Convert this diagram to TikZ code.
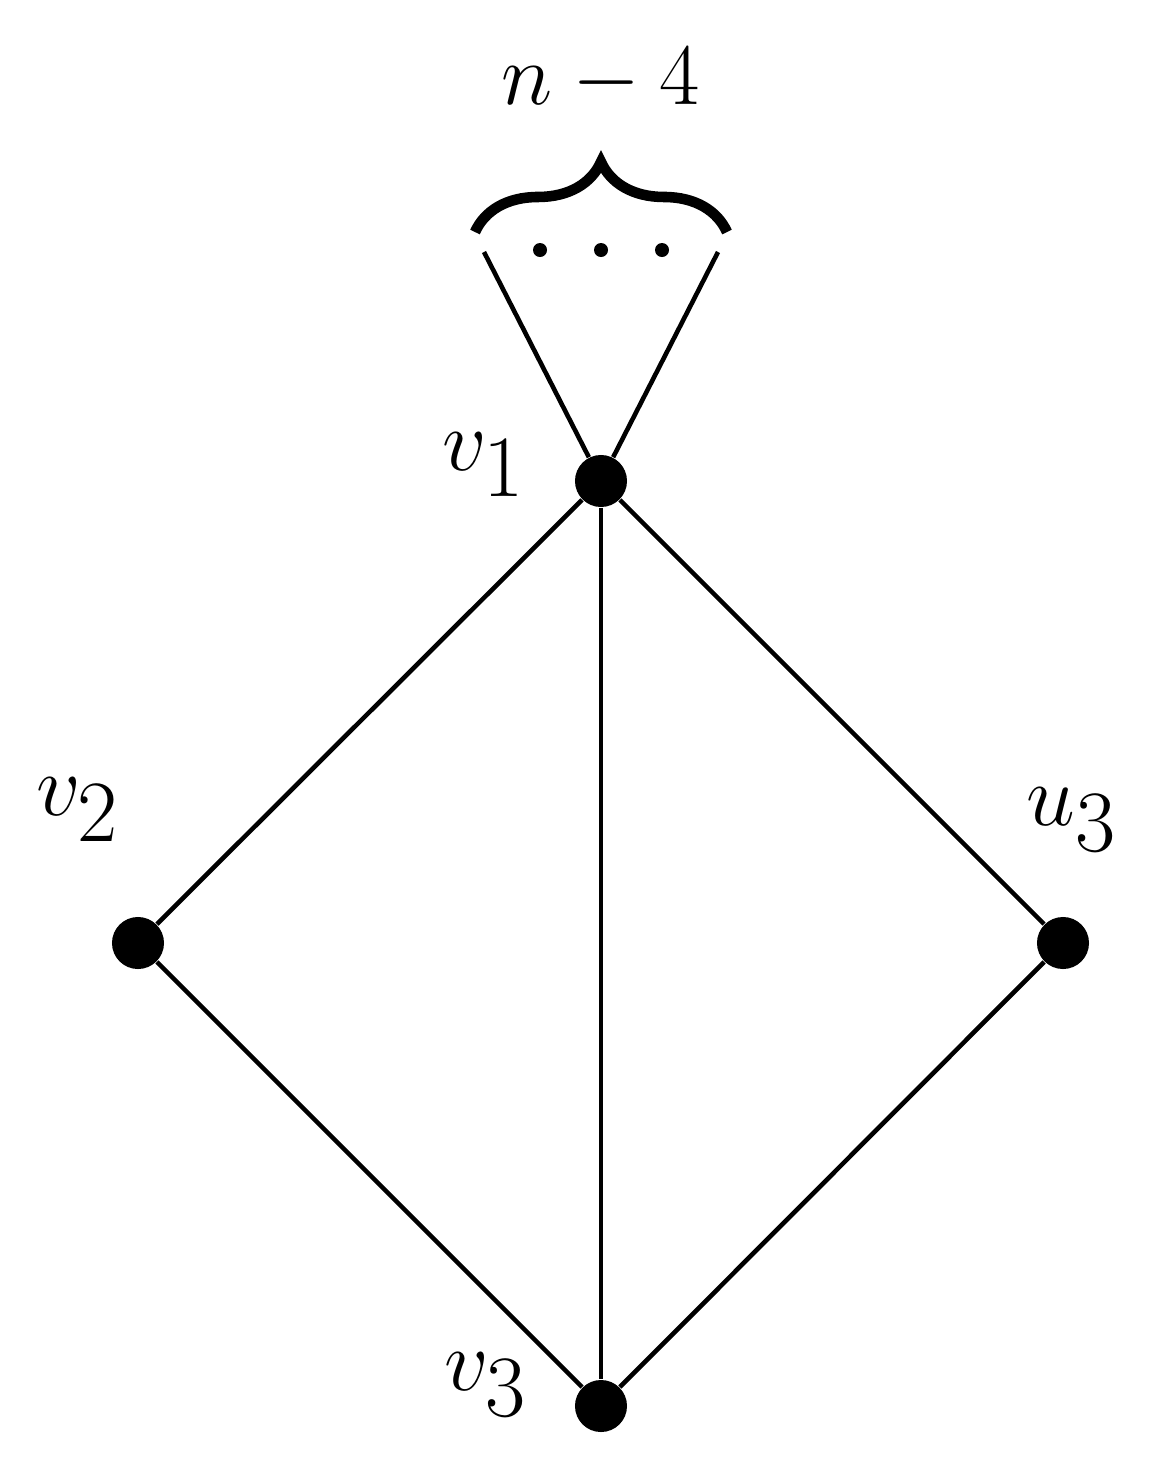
\documentclass[tikz,border=0pt]{standalone}
\usetikzlibrary{decorations.pathreplacing}
\begin{document}
\begin{tikzpicture}[x=0.01cm,y=-0.01cm,
  vert/.style={circle,fill=black,inner sep=0pt,minimum size=0.52cm},
  smalldot/.style={circle,fill=black,inner sep=0pt,minimum size=0.14cm},
  edge/.style={line width=1.3pt},
  lab/.style={font=\fontsize{58}{68}\selectfont}]
\useasboundingbox (0,0) rectangle (1152,1460);
\node[vert] (v1) at (601,481) {};
\node[vert] (v2) at (138,943) {};
\node[vert] (u3) at (1063,943) {};
\node[vert] (v3) at (601,1406) {};
\coordinate (l) at (484,252);
\coordinate (r) at (718,252);
\node[smalldot] (d1) at (540,250) {};
\node[smalldot] (d2) at (601,250) {};
\node[smalldot] (d3) at (662,250) {};
\draw[edge] (v1) -- (l);
\draw[edge] (v1) -- (r);
\draw[edge] (v1) -- (v2);
\draw[edge] (v1) -- (u3);
\draw[edge] (v1) -- (v3);
\draw[edge] (v2) -- (v3);
\draw[edge] (u3) -- (v3);
\coordinate (bl) at (475,232);
\coordinate (br) at (727,232);
\draw[line width=3pt,decorate,decoration={brace,amplitude=0.7cm,raise=0pt}] (bl) -- (br);
\node[lab,font=\fontsize{62}{72}\selectfont] (n4) at (601,80) {$n-4$};
\node[lab] (lv1) at (484,465) {$v_1$};
\node[lab] (lv2) at (78,810) {$v_2$};
\node[lab] (lu3) at (1072,820) {$u_3$};
\node[lab] (lv3) at (486,1385) {$v_3$};
\end{tikzpicture}
\end{document}
